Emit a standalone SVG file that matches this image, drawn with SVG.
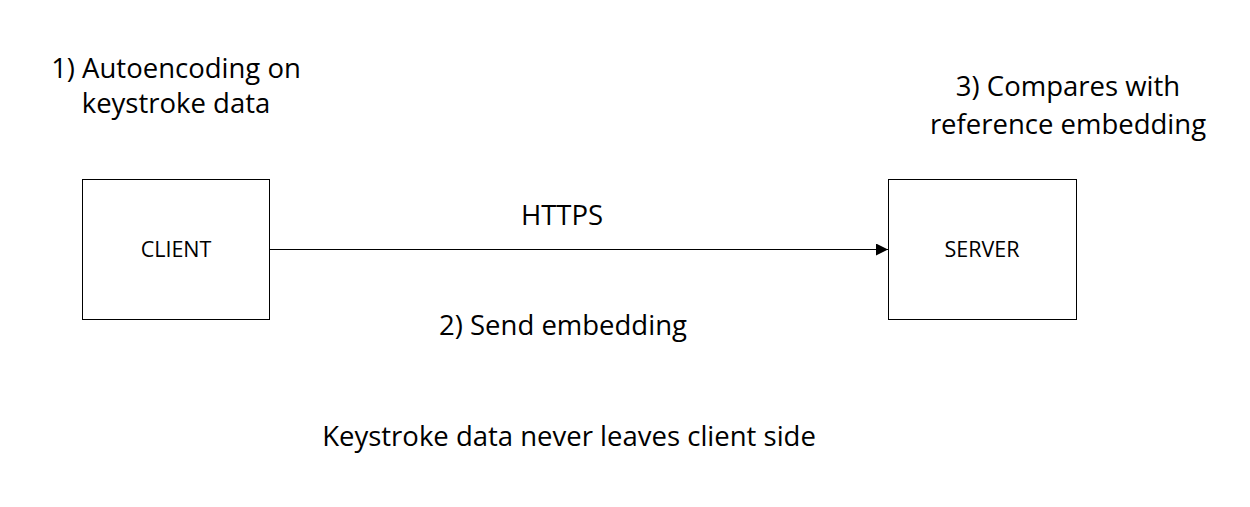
<svg xmlns="http://www.w3.org/2000/svg" width="1250" height="507" viewBox="0 0 1250 507">
<style>
text{font-family:"Open Sans","Noto Sans",sans-serif;fill:#000;text-anchor:middle}
.big{font-size:27.5px}
.lbl{font-size:21.5px}
.box{fill:#fff;stroke:#000;stroke-width:1}
</style>
<defs>
<marker id="arr" viewBox="0 0 10 10" refX="10" refY="5" markerWidth="12" markerHeight="12" markerUnits="userSpaceOnUse" orient="auto">
<path d="M0,0 L10,5 L0,10 Z" fill="#000"/>
</marker>
</defs>
<rect width="1250" height="507" fill="#fff"/>
<g id="connectors">
<line x1="269.5" y1="249.5" x2="888" y2="249.5" stroke="#000" stroke-width="1" marker-end="url(#arr)"/>
</g>
<g id="client">
<rect class="box" x="82.5" y="179.5" width="187" height="140"/>
<text class="lbl" x="176" y="257">CLIENT</text>
</g>
<g id="server">
<rect class="box" x="888.5" y="179.5" width="188" height="140"/>
<text class="lbl" x="982" y="257">SERVER</text>
</g>
<g id="labels">
<text class="big" x="176" y="78">1) Autoencoding on</text>
<text class="big" x="176" y="113">keystroke data</text>
<text class="big" x="1068" y="96">3) Compares with</text>
<text class="big" x="1068" y="134">reference embedding</text>
<text class="big" x="562" y="225">HTTPS</text>
<text class="big" x="563" y="335">2) Send embedding</text>
<text class="big" x="569" y="446">Keystroke data never leaves client side</text>
</g>
</svg>
